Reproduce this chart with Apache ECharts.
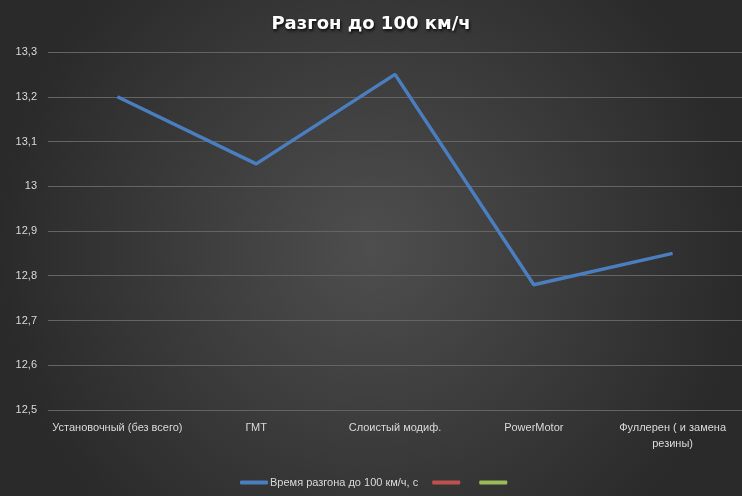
<!DOCTYPE html>
<html><head><meta charset="utf-8">
<script src="https://cdn.jsdelivr.net/npm/echarts@6/dist/echarts.min.js"></script>
<style>html,body{margin:0;padding:0;background:#333}#c{width:742px;height:496px}</style>
</head><body><div id="c"></div>
<script>
var categories = ["Установочный (без всего)", "ГМТ", "Слоистый модиф.", "PowerMotor", "Фуллерен ( и замена\nрезины)"];
var accelTimes = [13.2, 13.05, 13.25, 12.78, 12.85];
var seriesNames = ["Время разгона до 100 км/ч, с", " ", "  "];
var yMin = 12.5, yMax = 13.3, yStep = 0.1;

var chart = echarts.init(document.getElementById('c'));
chart.setOption({
  animation: false,
  backgroundColor: {type: 'radial', x: 0.5, y: 0.5, r: 0.75,
    colorStops: [{offset: 0, color: '#4e4e4e'}, {offset: 1, color: '#2a2a2a'}]},
  title: {text: 'Разгон до 100 км/ч', left: 'center', top: 10,
    textStyle: {color: '#ffffff', fontSize: 18, fontWeight: 'bold', fontFamily: 'DejaVu Sans',
      textShadowColor: 'rgba(0,0,0,0.8)', textShadowBlur: 3, textShadowOffsetX: 1, textShadowOffsetY: 2}},
  legend: {bottom: 3, left: 235, itemWidth: 28, itemHeight: 4, itemGap: 14, icon: 'roundRect',
    data: seriesNames,
    textStyle: {color: '#d9d9d9', fontSize: 11, fontFamily: 'Liberation Sans Narrow, Arial Narrow, sans-serif', padding: [0,0,0,-3]}},
  grid: {left: 48, right: -5, top: 52, bottom: 86, containLabel: false},
  xAxis: {type: 'category', data: categories, boundaryGap: true,
    axisLine: {show: false}, axisTick: {show: false},
    axisLabel: {color: '#d9d9d9', fontSize: 11, margin: 10, lineHeight: 16, interval: 0,
      fontFamily: 'Liberation Sans Narrow, Arial Narrow, sans-serif'}},
  yAxis: {type: 'value', min: yMin, max: yMax, interval: yStep,
    axisLine: {show: false}, axisTick: {show: false},
    splitLine: {lineStyle: {color: '#646464', width: 1}},
    axisLabel: {color: '#d9d9d9', fontSize: 11, margin: 11,
      fontFamily: 'Liberation Sans Narrow, Arial Narrow, sans-serif',
      formatter: function(v){ return (Math.round(v*10)/10).toString().replace('.', ','); }}},
  series: [
    {name: seriesNames[0], type: 'line', data: accelTimes, symbol: 'none',
      lineStyle: {color: '#4a7ebf', width: 3.5}, itemStyle: {color: '#4a7ebf'}},
    {name: seriesNames[1], type: 'line', data: [], symbol: 'none',
      lineStyle: {color: '#c0504d', width: 3.5}, itemStyle: {color: '#c0504d'}},
    {name: seriesNames[2], type: 'line', data: [], symbol: 'none',
      lineStyle: {color: '#9bbb59', width: 3.5}, itemStyle: {color: '#9bbb59'}}
  ]
});
</script></body></html>
